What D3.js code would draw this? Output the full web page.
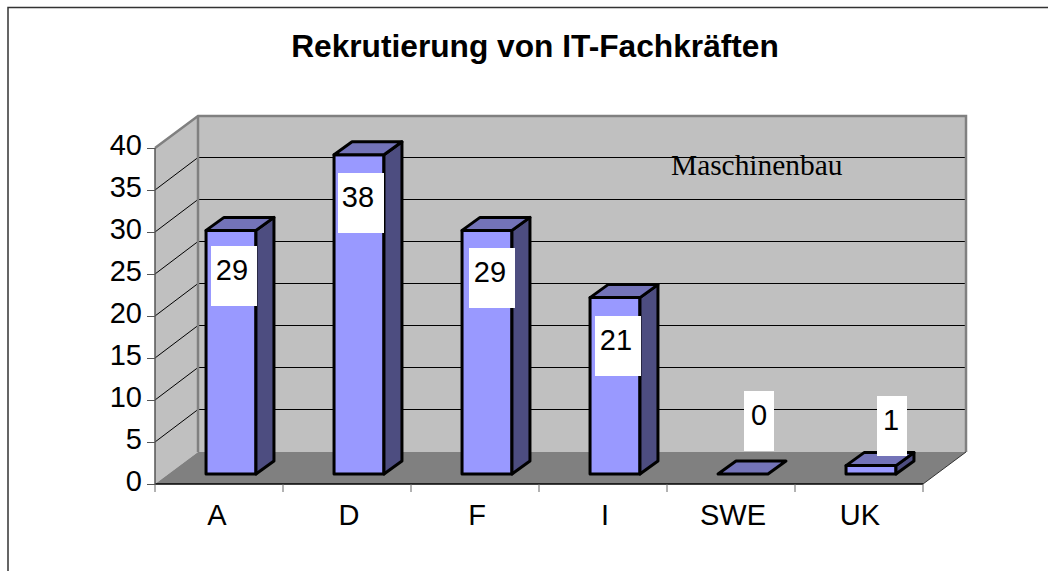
<!DOCTYPE html>
<html>
<head>
<meta charset="utf-8">
<script src="https://cdn.jsdelivr.net/npm/d3@7"></script>
<style>
  html, body { margin: 0; padding: 0; background: #fff; overflow: hidden; }
  svg { display: block; }
  text { font-family: "Liberation Sans", Arial, sans-serif; fill: #000; }
</style>
</head>
<body>
<div id="chart"></div>
<script>
let chartTitle = 'Rekrutierung von IT-Fachkräften';
let seriesName = 'Maschinenbau';
let categories = ['A', 'D', 'F', 'I', 'SWE', 'UK'];
let values = [29, 38, 29, 21, 0, 1];
let yTicks = [0, 5, 10, 15, 20, 25, 30, 35, 40];

let width = 1048, height = 571;
let left = 155, right = 923, top_ = 148, bottom = 484;
let depthX = 43, depthY = 32;     // wall depth
let barOffX = 12, barOffY = 10;   // bar base sits this far into the floor
let barDX = 18, barDY = 13;       // bar depth
let fontSize = 29;

let svg = d3.select('#chart').append('svg').attr('width', width).attr('height', height);

let xScale = d3.scaleBand().domain(categories).range([left, right]).paddingInner(0.61).paddingOuter(0.305);
let yScale = d3.scaleLinear().domain([0, 40]).range([bottom, top_]);
let poly = pts => 'M' + pts.map(p => p.join(',')).join('L') + 'Z';

// outer frame, only top and left are inside the picture
svg.append('path').attr('d', 'M8,' + height + 'V7.5H' + width)
  .attr('fill', 'none').attr('stroke', '#333').attr('stroke-width', 1.5);

svg.append('text').attr('x', 535).attr('y', 57).attr('text-anchor', 'middle')
  .attr('font-size', 31.7).attr('font-weight', 'bold').text(chartTitle);

// walls and floor
let walls = svg.append('g').attr('class', 'walls');
walls.append('path')
  .attr('d', poly([[left + depthX, top_ - depthY], [right + depthX, top_ - depthY], [right + depthX, bottom - depthY], [left + depthX, bottom - depthY]]))
  .attr('fill', '#c0c0c0');
walls.append('path')
  .attr('d', poly([[left, top_], [left + depthX, top_ - depthY], [left + depthX, bottom - depthY], [left, bottom]]))
  .attr('fill', '#c0c0c0');
walls.append('path')
  .attr('d', poly([[left, bottom], [left + depthX, bottom - depthY], [right + depthX, bottom - depthY], [right, bottom]]))
  .attr('fill', '#808080');

// gridlines
let grid = svg.append('g').attr('class', 'grid');
grid.selectAll('path').data(yTicks.filter(d => d > 0 && d < 40)).enter().append('path')
  .attr('d', d => 'M' + left + ',' + yScale(d) + 'L' + (left + depthX) + ',' + (yScale(d) - depthY - 0.5) + 'L' + (right + depthX) + ',' + (yScale(d) - depthY - 0.5))
  .attr('fill', 'none').attr('stroke', '#000').attr('stroke-width', 1);

// wall edges
walls = svg.append('g').attr('class', 'edges');
walls.append('path')
  .attr('d', 'M' + left + ',' + top_ + 'L' + (left + depthX) + ',' + (top_ - depthY) + 'L' + (right + depthX) + ',' + (top_ - depthY) + 'L' + (right + depthX) + ',' + (bottom - depthY))
  .attr('fill', 'none').attr('stroke', '#808080').attr('stroke-width', 2.5);
walls.append('line')
  .attr('x1', left + depthX).attr('x2', left + depthX).attr('y1', top_ - depthY).attr('y2', bottom - depthY)
  .attr('stroke', '#808080').attr('stroke-width', 2.5);
walls.append('line')
  .attr('x1', right).attr('x2', right + depthX).attr('y1', bottom).attr('y2', bottom - depthY)
  .attr('stroke', '#333').attr('stroke-width', 1);

// axes
let xAxis = d3.axisBottom(xScale).tickSize(8).tickFormat('');
let yAxis = d3.axisLeft(yScale).tickValues(yTicks).tickSize(8).tickPadding(5);

let xG = svg.append('g').attr('transform', 'translate(0,' + bottom + ')').call(xAxis);
xG.selectAll('.tick').remove();
xG.select('.domain').attr('stroke', '#000').attr('stroke-width', 1.5).attr('d', 'M' + left + ',0H' + right);
xG.selectAll('line.sep').data(d3.range(categories.length + 1)).enter().append('line').attr('class', 'sep')
  .attr('x1', i => left + i * xScale.step()).attr('x2', i => left + i * xScale.step())
  .attr('y1', 0).attr('y2', 8).attr('stroke', '#666').attr('stroke-width', 1);

let yG = svg.append('g').attr('transform', 'translate(' + left + ',0)').call(yAxis);
yG.select('.domain').attr('stroke', '#555').attr('stroke-width', 1.5).attr('d', 'M0,' + top_ + 'V' + bottom);
yG.selectAll('.tick line').attr('stroke', '#555');
yG.selectAll('text').attr('font-size', fontSize).attr('font-family', '"Liberation Sans", Arial, sans-serif').attr('dy', '0.22em');

// category labels sit a little off their band centres in the reference
let catShift = [-2, 2, 2, 2, 2, 1];
svg.append('g').selectAll('text').data(categories).enter().append('text')
  .attr('x', (d, i) => xScale(d) + xScale.bandwidth() / 2 + catShift[i])
  .attr('y', 525).attr('text-anchor', 'middle').attr('font-size', fontSize).text(d => d);

// bars
let bars = svg.append('g').attr('class', 'bars').selectAll('g').data(categories).enter().append('g');
let barStyle = sel => sel.attr('stroke', '#000').attr('stroke-width', 3).attr('stroke-linejoin', 'round');
bars.each(function(c, i) {
  let g = d3.select(this);
  let x0 = xScale(c) + barOffX, x1 = x0 + xScale.bandwidth();
  let y0 = bottom - barOffY, y1 = yScale(values[i]) - barOffY;
  if (values[i] > 0) {
    g.append('path').call(barStyle).attr('fill', '#9999ff')
      .attr('d', poly([[x0, y1], [x1, y1], [x1, y0], [x0, y0]]));
    g.append('path').call(barStyle).attr('fill', '#4d4d80')
      .attr('d', poly([[x1, y1], [x1 + barDX, y1 - barDY], [x1 + barDX, y0 - barDY], [x1, y0]]));
  }
  g.append('path').call(barStyle).attr('fill', '#7373b8')
    .attr('d', poly([[x0, y1], [x0 + barDX, y1 - barDY], [x1 + barDX, y1 - barDY], [x1, y1]]));
});

// data labels
let labelLeft = [211, 338, 469, 595, 744, 877];
let labelTop = [246, 173, 248, 316, 391, 396];
let labelW = [46, 46, 46, 46, 30, 30];
let labelShift = [-2, -3, -2, -2, 0, -1];
let labels = svg.append('g').attr('class', 'labels').selectAll('g').data(values).enter().append('g');
labels.append('rect').attr('x', (d, i) => labelLeft[i]).attr('y', (d, i) => labelTop[i])
  .attr('width', (d, i) => labelW[i]).attr('height', 60).attr('fill', '#fff');
labels.append('text').attr('x', (d, i) => labelLeft[i] + labelW[i] / 2 + labelShift[i]).attr('y', (d, i) => labelTop[i] + 34)
  .attr('text-anchor', 'middle').attr('font-size', fontSize).text(d => d);

svg.append('text').attr('x', 671).attr('y', 175).attr('font-size', 29.4)
  .style('font-family', '"Liberation Serif", "Times New Roman", serif').text(seriesName);
</script>
</body>
</html>
